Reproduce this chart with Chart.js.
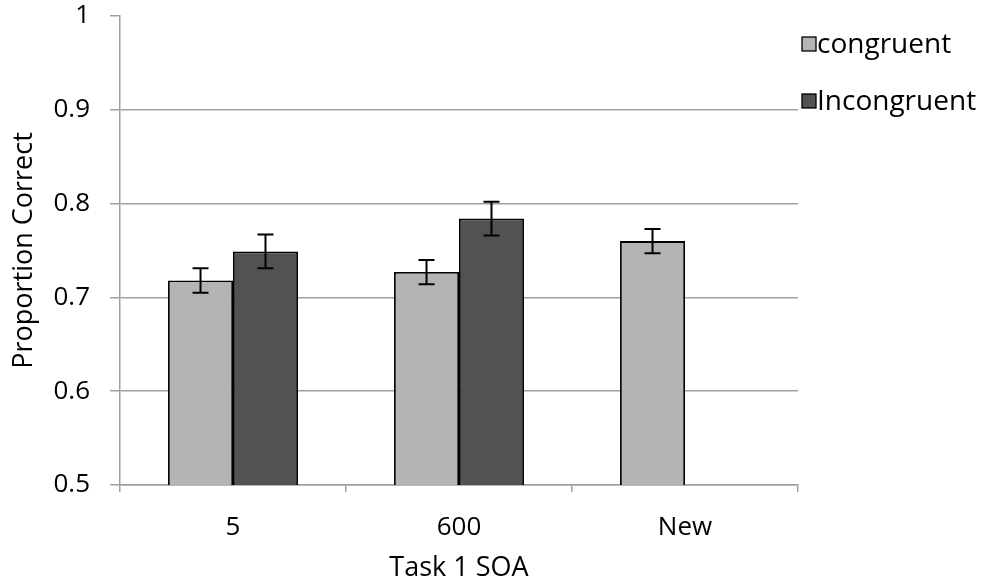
<!DOCTYPE html>
<html>
<head>
<meta charset="utf-8">
<script src="https://cdn.jsdelivr.net/npm/chart.js@4/dist/chart.umd.min.js"></script>
<style>
  html, body { margin: 0; padding: 0; background: #ffffff; }
  #wrap { width: 989px; height: 585px; }
</style>
</head>
<body>
<div id="wrap"><canvas id="chart" width="989" height="585"></canvas></div>
<script>
// Task 1 SOA conditions
const categories = ['5', '600', 'New'];

// Mean proportion correct per condition
const congruent = [0.718, 0.727, 0.760];
const incongruent = [0.749, 0.784, null];

// Standard errors
const congruentErr = [0.013, 0.013, 0.013];
const incongruentErr = [0.018, 0.018, null];

const seriesNames = ['congruent', 'Incongruent'];
const seriesColors = ['#b4b4b4', '#525252'];

const FONT = '"Open Sans", "DejaVu Sans", sans-serif';
const AXIS_GRAY = '#a0a0a0';

// Error bars drawn on top of each bar
const errorBars = {
  id: 'errorBars',
  afterDatasetsDraw(chart) {
    const ctx = chart.ctx;
    const y = chart.scales.y;
    chart.data.datasets.forEach((ds, i) => {
      const meta = chart.getDatasetMeta(i);
      meta.data.forEach((bar, j) => {
        const v = ds.data[j];
        const e = ds.errors[j];
        if (v == null || e == null) return;
        const top = y.getPixelForValue(v + e);
        const bot = y.getPixelForValue(v - e);
        const cx = bar.x;
        ctx.save();
        ctx.strokeStyle = '#000000';
        ctx.lineWidth = 2;
        ctx.beginPath();
        ctx.moveTo(cx, top); ctx.lineTo(cx, bot);
        ctx.moveTo(cx - 8, top); ctx.lineTo(cx + 8, top);
        ctx.moveTo(cx - 8, bot); ctx.lineTo(cx + 8, bot);
        ctx.stroke();
        ctx.restore();
      });
    });
  }
};

// Legend at the right of the plot
const sideLegend = {
  id: 'sideLegend',
  afterDraw(chart) {
    const ctx = chart.ctx;
    const x0 = chart.chartArea.right + 4;
    const rows = [44, 101];
    ctx.save();
    chart.data.datasets.forEach((ds, i) => {
      const cy = rows[i];
      ctx.fillStyle = ds.backgroundColor;
      ctx.fillRect(x0, cy - 7, 14, 14);
      ctx.strokeStyle = '#000000';
      ctx.lineWidth = 1.3;
      ctx.strokeRect(x0, cy - 7, 14, 14);
      ctx.fillStyle = '#000000';
      ctx.font = '28px ' + FONT;
      ctx.textBaseline = 'middle';
      ctx.textAlign = 'left';
      ctx.fillText(ds.label, x0 + 15, cy + 1);
    });
    ctx.restore();
  }
};

new Chart(document.getElementById('chart'), {
  type: 'bar',
  data: {
    labels: categories,
    datasets: [
      {
        label: seriesNames[0],
        data: congruent,
        errors: congruentErr,
        backgroundColor: seriesColors[0],
        borderColor: '#000000',
        borderWidth: 1.8
      },
      {
        label: seriesNames[1],
        data: incongruent,
        errors: incongruentErr,
        backgroundColor: seriesColors[1],
        borderColor: '#000000',
        borderWidth: 1.8
      }
    ]
  },
  options: {
    responsive: false,
    animation: false,
    layout: { padding: { top: 2, right: 191, left: 0, bottom: 0 } },
    datasets: { bar: { categoryPercentage: 0.575, barPercentage: 1.0 } },
    plugins: {
      legend: { display: false },
      tooltip: { enabled: false }
    },
    scales: {
      y: {
        min: 0.5,
        max: 1.0,
        ticks: {
          stepSize: 0.1,
          padding: 20,
          color: '#000000',
          font: { family: FONT, size: 26 },
          callback: v => (Math.round(v * 10) / 10).toString()
        },
        grid: {
          color: c => (c.tick && Math.abs(c.tick.value - 1) < 1e-9) ? 'rgba(0,0,0,0)' : AXIS_GRAY,
          tickColor: AXIS_GRAY,
          lineWidth: 1.5,
          tickLength: 10
        },
        border: { color: AXIS_GRAY, width: 1.5 },
        title: {
          display: true,
          text: 'Proportion Correct',
          color: '#000000',
          font: { family: FONT, size: 27 },
          padding: { top: 8, bottom: 0 }
        },
        afterFit(s) { s.width = 120; s.paddingTop = 16; }
      },
      x: {
        ticks: {
          padding: 20,
          color: '#000000',
          font: { family: FONT, size: 26 }
        },
        grid: {
          offset: true,
          drawOnChartArea: false,
          tickColor: AXIS_GRAY,
          lineWidth: 1.5,
          tickLength: 7
        },
        border: { color: AXIS_GRAY, width: 1.5 },
        title: {
          display: true,
          text: 'Task 1 SOA',
          color: '#000000',
          font: { family: FONT, size: 27 },
          padding: { top: 8, bottom: 0 }
        },
        afterFit(s) { s.height = 100; }
      }
    }
  },
  plugins: [errorBars, sideLegend]
});
</script>
</body>
</html>
